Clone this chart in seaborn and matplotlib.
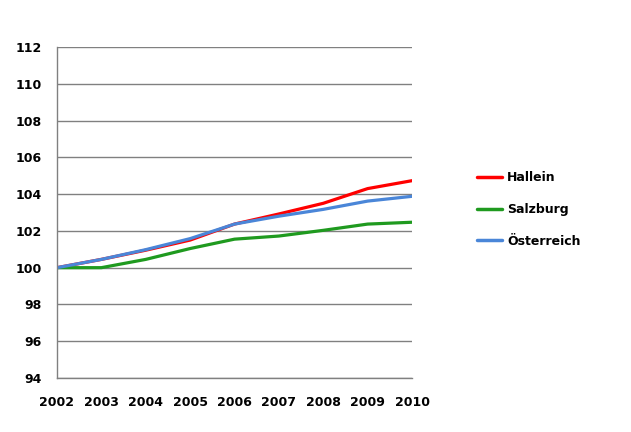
import matplotlib
matplotlib.use("Agg")
import matplotlib.pyplot as plt
import seaborn as sns
import pandas as pd

years = [2002, 2003, 2004, 2005, 2006, 2007, 2008, 2009, 2010]
hallein = [100.0, 100.45, 100.95, 101.5, 102.37, 102.92, 103.5, 104.3, 104.73]
salzburg = [100.0, 100.0, 100.45, 101.04, 101.55, 101.72, 102.03, 102.37, 102.47]
oesterreich = [100.0, 100.45, 100.98, 101.58, 102.37, 102.8, 103.17, 103.62, 103.88]
series_names = ["Hallein", "Salzburg", "Österreich"]
colors = ["#ff0000", "#1f9a1f", "#4a86d8"]
yticks = list(range(94, 113, 2))

df = pd.concat([
    pd.DataFrame({"Jahr": years, "Wert": vals, "Region": name})
    for name, vals in zip(series_names, [hallein, salzburg, oesterreich])
])

sns.set_style("white")
plt.rcParams['font.family'] = ['DejaVu Sans']
plt.rcParams['text.color'] = 'black'
plt.rcParams['xtick.labelcolor'] = 'black'
plt.rcParams['ytick.labelcolor'] = 'black'

fig = plt.figure(figsize=(6.31, 4.32), dpi=100)
ax = fig.add_axes([57/631, 1 - 378/432, (412-57)/631, (378-47)/432])

sns.lineplot(data=df, x="Jahr", y="Wert", hue="Region", hue_order=series_names,
             palette=colors, linewidth=2.3, ax=ax, legend=True)

ax.set_xlim(2002, 2010)
ax.set_ylim(94, 112)
ax.set_yticks(yticks)
ax.set_xticks(years)
ax.set_xticklabels([str(y) for y in years], fontsize=9, fontweight='bold', color='black')
ax.set_yticklabels([str(y) for y in yticks], fontsize=9, fontweight='bold', color='black')
ax.set_xlabel("")
ax.set_ylabel("")
ax.yaxis.grid(True, color="#808080", linewidth=1)
ax.set_axisbelow(True)
for s in ["top", "right"]:
    ax.spines[s].set_visible(False)
for s in ["left", "bottom"]:
    ax.spines[s].set_color("#808080")
    ax.spines[s].set_linewidth(1)
ax.tick_params(axis='both', direction='out', length=5, color="#808080", width=1)
ax.tick_params(axis='x', pad=8)
ax.tick_params(axis='y', pad=6)

leg = ax.legend(loc='upper left', bbox_to_anchor=(466/631, 1 - 160/432),
                bbox_transform=fig.transFigure, frameon=False,
                prop={'size': 9, 'weight': 'bold'}, handlelength=2.0,
                labelspacing=1.5, handletextpad=0.4)
for line in leg.get_lines():
    line.set_linewidth(2.5)
for t in leg.get_texts():
    t.set_color('black')

fig.savefig("out.png", dpi=100)
